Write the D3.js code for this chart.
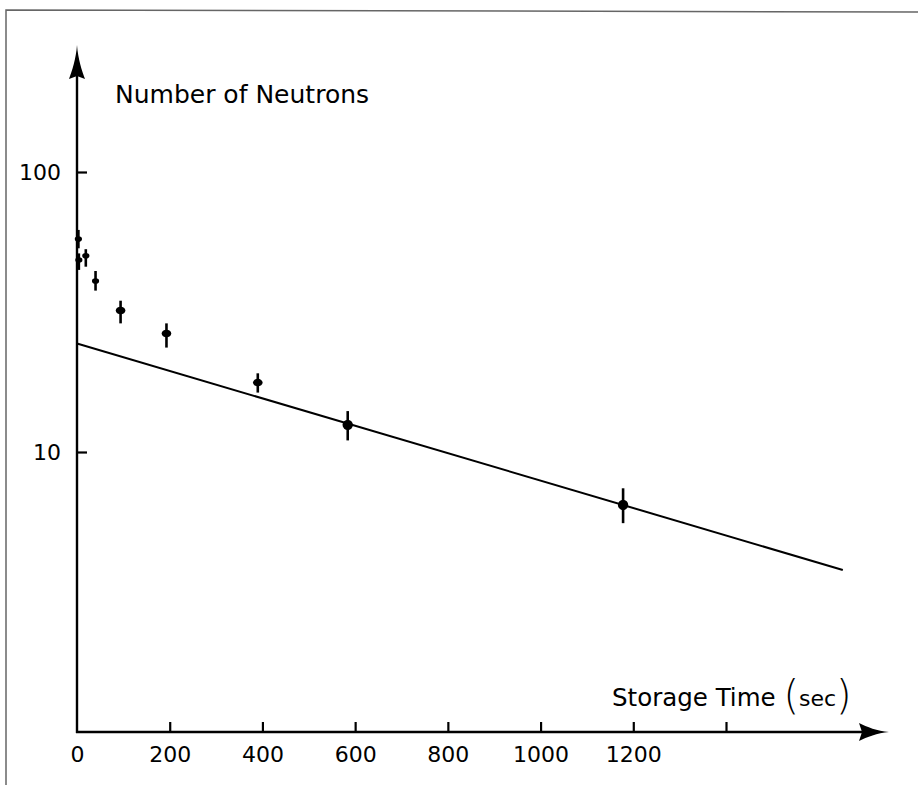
<!DOCTYPE html>
<html>
<head>
<meta charset="utf-8">
<script src="https://cdn.jsdelivr.net/npm/d3@7"></script>
<style>
  body { margin: 0; background: #fff; }
  svg { display: block; font-family: 'DejaVu Sans', sans-serif; }
</style>
</head>
<body>
<svg width="918" height="785"></svg>
<script>
'use strict';

// storage time (s), neutron counts and error bar ends
const times = [3, 4, 19, 40, 94, 193, 390, 584, 1178];
const counts = [57.6, 48.5, 50.2, 40.8, 32.0, 26.5, 17.7, 12.5, 6.47];
const countsHigh = [62.1, 51.2, 53.0, 44.3, 34.7, 28.8, 19.1, 14.0, 7.42];
const countsLow = [53.4, 44.7, 45.9, 37.7, 28.8, 23.6, 16.3, 11.0, 5.57];

// straight-line fit on the log plot (two ends)
const fitTimes = [0, 1652];
const fitCounts = [24.4, 3.79];

const xTickValues = [0, 200, 400, 600, 800, 1000, 1200, 1400];
const xTickLabels = ['0', '200', '400', '600', '800', '1000', '1200', ''];
const yTickValues = [10, 100];
const yTickLabels = ['10', '100'];

const svg = d3.select('svg');

const x = d3.scaleLinear().domain([0, 1400]).range([77, 726]);
const y = d3.scaleLog().domain([1, 100]).range([732, 172]);

// scanned page frame
svg.append('path')
  .attr('d', 'M6,785 L6,10 L918,12')
  .attr('fill', 'none')
  .attr('stroke', '#666')
  .attr('stroke-width', 1.5);

/**
 * Axis ticks and labels come from d3 axes, domain removed
 */
const xAxis = d3.axisBottom(x)
  .tickValues(xTickValues)
  .tickFormat((d, i) => xTickLabels[i])
  .tickSizeInner(-10)
  .tickSizeOuter(0)
  .tickPadding(14);

const gx = svg.append('g')
  .attr('transform', `translate(0,${y(1)})`)
  .call(xAxis);
gx.select('.domain').remove();
gx.selectAll('line').attr('stroke', '#000').attr('stroke-width', 2.2);
gx.selectAll('text')
  .attr('font-size', 22)
  .attr('font-family', "'DejaVu Sans', sans-serif")
  .attr('fill', '#000');
gx.selectAll('.tick').filter(d => d === 0).select('line').remove();

const yAxis = d3.axisLeft(y)
  .tickValues(yTickValues)
  .tickFormat((d, i) => yTickLabels[i])
  .tickSizeInner(-10)
  .tickSizeOuter(0)
  .tickPadding(16);

const gy = svg.append('g')
  .attr('transform', `translate(${x(0)},0)`)
  .call(yAxis);
gy.select('.domain').remove();
gy.selectAll('line').attr('stroke', '#000').attr('stroke-width', 2.2);
gy.selectAll('text')
  .attr('font-size', 22)
  .attr('font-family', "'DejaVu Sans', sans-serif")
  .attr('fill', '#000');

// axis lines with arrow heads
const x0 = x(0);
const y0 = y(1);
const yTip = 45;
const xTip = 889;

svg.append('line')
  .attr('x1', x0).attr('y1', y0 + 1)
  .attr('x2', x0).attr('y2', yTip + 20)
  .attr('stroke', '#000').attr('stroke-width', 2.4);
svg.append('path')
  .attr('d', `M${x0},${yTip} C${x0 + 1},${yTip + 14} ${x0 + 5},${yTip + 26} ${x0 + 8},${yTip + 34}
    L${x0},${yTip + 31} L${x0 - 8},${yTip + 34} C${x0 - 5},${yTip + 26} ${x0 - 1},${yTip + 14} ${x0},${yTip} Z`)
  .attr('fill', '#000');

svg.append('line')
  .attr('x1', x0 - 1).attr('y1', y0)
  .attr('x2', xTip - 20).attr('y2', y0)
  .attr('stroke', '#000').attr('stroke-width', 2.4);
svg.append('path')
  .attr('d', `M${xTip},${y0} C${xTip - 12},${y0 - 1} ${xTip - 22},${y0 - 5} ${xTip - 30},${y0 - 9}
    L${xTip - 27},${y0} L${xTip - 30},${y0 + 9} C${xTip - 22},${y0 + 5} ${xTip - 12},${y0 + 1} ${xTip},${y0} Z`)
  .attr('fill', '#000');

// fit line
const fit = fitTimes.map((t, i) => ({ t, n: fitCounts[i] }));
svg.append('path')
  .datum(fit)
  .attr('d', d3.line().x(d => x(d.t)).y(d => y(d.n)))
  .attr('fill', 'none')
  .attr('stroke', '#000')
  .attr('stroke-width', 2);

// measured points with error bars
const points = times.map((t, i) => ({
  t, n: counts[i], hi: countsHigh[i], lo: countsLow[i]
}));

const pt = svg.append('g').selectAll('g')
  .data(points)
  .join('g');

pt.append('line')
  .attr('x1', d => x(d.t)).attr('x2', d => x(d.t))
  .attr('y1', d => y(d.hi)).attr('y2', d => y(d.lo))
  .attr('stroke', '#000')
  .attr('stroke-width', 2.6);

pt.append('ellipse')
  .attr('cx', d => x(d.t))
  .attr('cy', d => y(d.n))
  .attr('rx', d => (d.t > 500 ? 5.2 : d.t > 60 ? 4.8 : 3.6))
  .attr('ry', d => (d.t > 500 ? 5.2 : d.t > 60 ? 3.8 : 2.8))
  .attr('fill', '#000');

// axis titles
svg.append('text')
  .attr('x', 115)
  .attr('y', 103)
  .attr('font-size', 25)
  .text('Number of Neutrons');

const xTitle = svg.append('text')
  .attr('x', 612)
  .attr('y', 706)
  .attr('font-size', 24.5);
xTitle.append('tspan').text('Storage Time ');
xTitle.append('tspan').attr('font-size', 40).attr('font-weight', 200).attr('dy', 3).text('(');
xTitle.append('tspan').attr('font-size', 22).attr('dy', -3).text('sec');
xTitle.append('tspan').attr('font-size', 40).attr('font-weight', 200).attr('dy', 3).text(')');
</script>
</body>
</html>
